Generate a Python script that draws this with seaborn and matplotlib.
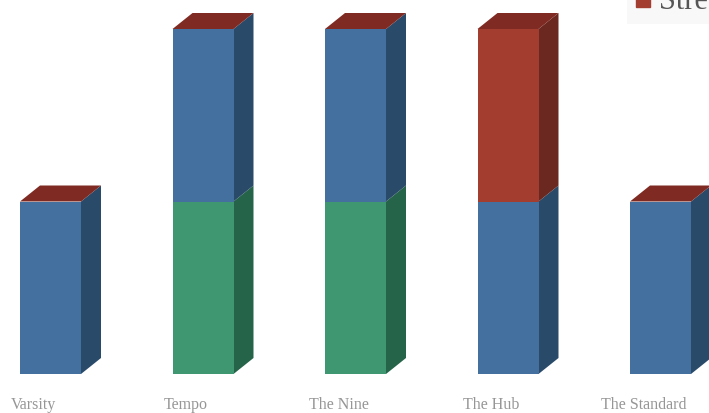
import matplotlib
matplotlib.use("Agg")
import matplotlib.pyplot as plt
from matplotlib.patches import Polygon, Patch
import pandas as pd
import seaborn as sns

categories = ["Varsity", "Tempo", "The Nine", "The Hub", "The Standard"]
green_vals = [0, 1, 1, 0, 0]
blue_vals = [1, 1, 1, 1, 1]
red_vals = [0, 0, 0, 1, 0]
legend_label = "Stre"

front = {"green": "#3e9770", "blue": "#44709f", "red": "#a23d30"}
side = {"green": "#26644a", "blue": "#2a4a69", "red": "#6b2820"}
top_col = "#7f2a22"

W, H = 709, 414
BASE = 375
UNIT = 172.5
STEP = 152.5
X0 = 50.5
fig = plt.figure(figsize=(W / 100, H / 100), dpi=100, facecolor="white")
ax = fig.add_axes([0, (H - BASE) / H, 1, BASE / H])
sns.set_style("white")
ax.set_facecolor("none")

df = pd.DataFrame({"cat": categories, "green": green_vals, "blue": blue_vals, "red": red_vals})
dx = 20 / STEP
dy = 16 / UNIT
bottom = [0.0] * len(categories)
for name in ["green", "blue", "red"]:
    vals = df[name].tolist()
    sns.barplot(data=df, x="cat", y=name, order=categories, color=front[name], saturation=1,
                width=0.4, bottom=bottom, ax=ax, errorbar=None, linewidth=0, zorder=3)
    for i, v in enumerate(vals):
        if v > 0:
            b, t = bottom[i], bottom[i] + v
            xr = i + 0.2
            ax.add_patch(Polygon([(xr, b), (xr + dx, b + dy), (xr + dx, t + dy), (xr, t)],
                                 closed=True, fc=side[name], ec="none", zorder=2))
    bottom = [b + v for b, v in zip(bottom, vals)]
for i, t in enumerate(bottom):
    xl, xr = i - 0.2, i + 0.2
    ax.add_patch(Polygon([(xl, t), (xr, t), (xr + dx, t + dy), (xl + dx, t + dy)],
                         closed=True, fc=top_col, ec="none", zorder=2))

ax.set_xlim(-X0 / STEP, (W - X0) / STEP)
ax.set_ylim(0, BASE / UNIT)
ax.set_xticks([i - 17 / STEP for i in range(len(categories))])
ax.set_xticklabels(categories, family="Liberation Serif", fontsize=11.5, color="#969696")
ax.tick_params(axis="x", length=0, pad=15.5)
ax.set_yticks([])
ax.set_xlabel("")
ax.set_ylabel("")
for s in ax.spines.values():
    s.set_visible(False)

leg = ax.legend(handles=[Patch(color=front["red"], label=legend_label)], loc="lower left",
                bbox_to_anchor=(627 / W, (H - 25) / H), bbox_transform=fig.transFigure,
                prop={"family": "Liberation Serif", "size": 22}, frameon=True,
                facecolor="#f8f8f8", edgecolor="none", fancybox=False, framealpha=1,
                handlelength=0.45, handleheight=0.65, handletextpad=0.3,
                borderpad=0.3, borderaxespad=0)
for txt in leg.get_texts():
    txt.set_color("#555555")
leg.set_zorder(5)

fig.savefig("out.png", dpi=100, facecolor="white")
